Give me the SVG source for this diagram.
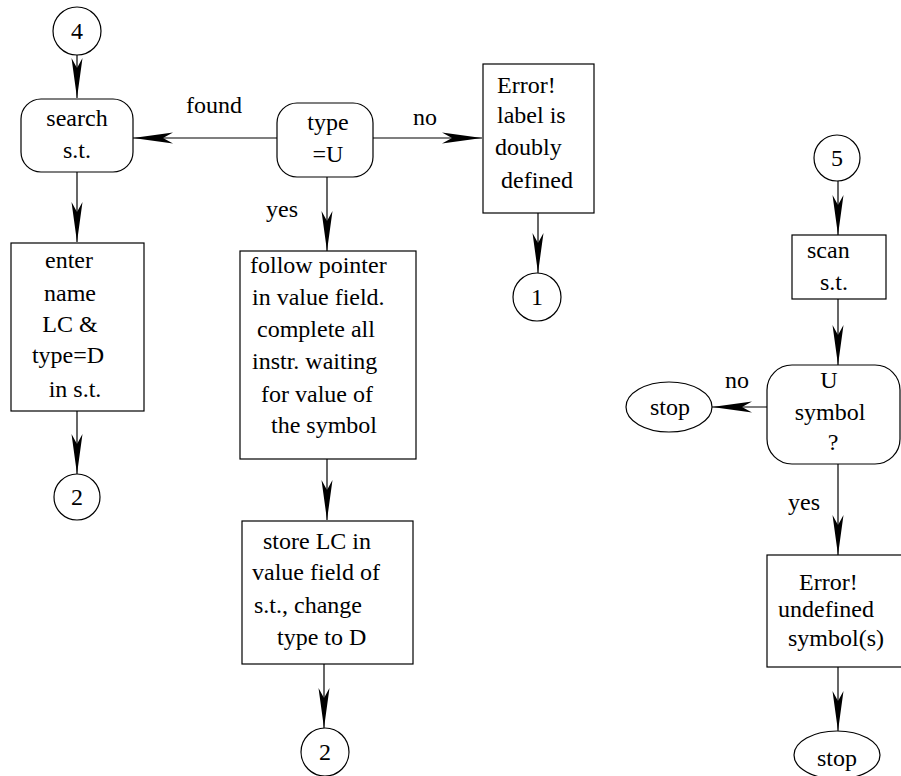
<svg xmlns="http://www.w3.org/2000/svg" width="901" height="776" viewBox="0 0 901 776">
<style>
text{font-family:"Liberation Serif","Times New Roman",serif;font-size:24px;fill:#000}
.m{text-anchor:middle}
.s{fill:#fff;stroke:#000;stroke-width:1.2}
.c{stroke:#000;stroke-width:1.2;fill:none}
</style>
<defs>
<marker id="ah" viewBox="-41 -6 42 12" refX="0" refY="0" markerWidth="42" markerHeight="12" markerUnits="userSpaceOnUse" orient="auto">
<path d="M0,0 L-40,-5.5 L-30,0 L-40,5.5 Z" fill="#000"/>
</marker>
</defs>
<rect width="901" height="776" fill="#fff"/>
<g id="connectors">
<line class="c" x1="77" y1="55" x2="77" y2="98" marker-end="url(#ah)"/>
<line class="c" x1="77" y1="172" x2="77" y2="242" marker-end="url(#ah)"/>
<line class="c" x1="77" y1="411" x2="77" y2="474" marker-end="url(#ah)"/>
<line class="c" x1="277" y1="138" x2="133" y2="138" marker-end="url(#ah)"/>
<line class="c" x1="373" y1="138" x2="482" y2="138" marker-end="url(#ah)"/>
<line class="c" x1="538" y1="213" x2="538" y2="273" marker-end="url(#ah)"/>
<line class="c" x1="327" y1="177" x2="327" y2="251" marker-end="url(#ah)"/>
<line class="c" x1="327" y1="459" x2="327" y2="520" marker-end="url(#ah)"/>
<line class="c" x1="324" y1="664" x2="324" y2="728" marker-end="url(#ah)"/>
<line class="c" x1="838" y1="181" x2="838" y2="235" marker-end="url(#ah)"/>
<line class="c" x1="838" y1="299" x2="838" y2="365" marker-end="url(#ah)"/>
<line class="c" x1="767" y1="407" x2="712" y2="407" marker-end="url(#ah)"/>
<line class="c" x1="838" y1="464" x2="838" y2="555" marker-end="url(#ah)"/>
<line class="c" x1="838" y1="667" x2="838" y2="731" marker-end="url(#ah)"/>
<text x="214" y="113" class="m">found</text>
<text x="425" y="125" class="m">no</text>
<text x="282" y="217" class="m">yes</text>
<text x="737" y="388" class="m">no</text>
<text x="804" y="510" class="m">yes</text>
</g>
<g id="c4"><circle class="s" cx="77" cy="31" r="24"/><text x="77" y="39" class="m">4</text></g>
<g id="search"><rect class="s" x="21" y="99" width="112" height="73" rx="20"/><text x="77" y="126" class="m">search</text><text x="77" y="158" class="m">s.t.</text></g>
<g id="enter"><rect class="s" x="11" y="243" width="133" height="168"/>
<text x="69" y="268" class="m">enter</text><text x="70" y="301" class="m">name</text><text x="70" y="332" class="m">LC &amp;</text><text x="68" y="363" class="m">type=D</text><text x="75" y="397" class="m">in s.t.</text></g>
<g id="c2a"><circle class="s" cx="77" cy="497" r="23"/><text x="77" y="505" class="m">2</text></g>
<g id="type"><rect class="s" x="277" y="103" width="96" height="74" rx="20"/><text x="328" y="130" class="m">type</text><text x="328" y="162" class="m">=U</text></g>
<g id="error1"><rect class="s" x="483" y="64" width="111" height="149"/>
<text x="497" y="93">Error!</text><text x="497" y="123">label is</text><text x="495" y="155">doubly</text><text x="501" y="188">defined</text></g>
<g id="c1"><circle class="s" cx="537" cy="297" r="24"/><text x="537" y="305" class="m">1</text></g>
<g id="follow"><rect class="s" x="240" y="251" width="176" height="208"/>
<text x="250" y="273">follow pointer</text><text x="252" y="305">in value field.</text><text x="257" y="337">complete all</text><text x="252" y="369">instr. waiting</text><text x="261" y="402">for value of</text><text x="271" y="433">the symbol</text></g>
<g id="store"><rect class="s" x="242" y="521" width="171" height="143"/>
<text x="263" y="549">store LC in</text><text x="252" y="580">value field of</text><text x="254" y="613">s.t., change</text><text x="277" y="645">type to D</text></g>
<g id="c2b"><circle class="s" cx="325" cy="752" r="24"/><text x="325" y="760" class="m">2</text></g>
<g id="c5"><circle class="s" cx="837" cy="158" r="23"/><text x="837" y="166" class="m">5</text></g>
<g id="scan"><rect class="s" x="792" y="235" width="94" height="64"/><text x="807" y="258">scan</text><text x="820" y="290">s.t.</text></g>
<g id="usym"><rect class="s" x="767" y="365" width="133" height="99" rx="25"/>
<text x="829" y="388" class="m">U</text><text x="830" y="420" class="m">symbol</text><text x="833" y="450" class="m">?</text></g>
<g id="stop1"><ellipse class="s" cx="669" cy="407" rx="43" ry="25"/><text x="670" y="415" class="m">stop</text></g>
<g id="error2"><rect class="s" x="767" y="555" width="140" height="112"/>
<text x="799" y="590">Error!</text><text x="778" y="617">undefined</text><text x="788" y="646">symbol(s)</text></g>
<g id="stop2"><ellipse class="s" cx="837" cy="755" rx="43" ry="24"/><text x="837" y="766" class="m">stop</text></g>
</svg>
